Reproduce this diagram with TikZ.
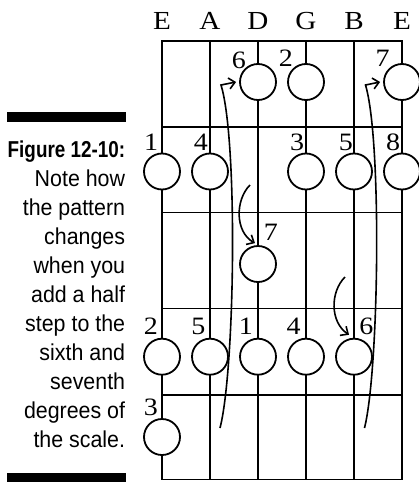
\documentclass[tikz,border=0pt]{standalone}
\usepackage{fontspec}
\setmainfont{Liberation Serif}[FakeStretch=1.12]
\newfontfamily\capfont[FakeStretch=0.93]{Liberation Sans}
\newfontfamily\capbfont[FakeStretch=0.82]{Liberation Sans}
\usetikzlibrary{arrows.meta}
\begin{document}
\begin{tikzpicture}[x=1pt,y=-1pt, line width=1.8pt,
  dot/.style={circle,draw,fill=white,minimum size=36pt,inner sep=0pt,line width=1.8pt},
  num/.style={anchor=base,inner sep=0pt,font=\fontsize{25}{30}\selectfont},
  strname/.style={anchor=base,inner sep=0pt,font=\fontsize{26}{30}\selectfont},
  capline/.style={anchor=base east,inner sep=0pt,font=\capfont\fontsize{23}{29}\selectfont},
  capbold/.style={anchor=base east,inner sep=0pt,font=\capbfont\bfseries\fontsize{23}{29}\selectfont},
  bar/.style={fill=black},
  arr/.style={-{Straight Barb[length=6pt,width=11pt,line width=1.6pt]}, line width=1.6pt}]
\useasboundingbox (0,0) rectangle (419,482);

% caption
\fill[bar] (6.7,111.7) rectangle (126,121.7);
\fill[bar] (6.7,472.7) rectangle (126,482);
\node[capbold] (cap0) at (126,157) {Figure 12-10:};
\foreach \t [count=\i] in {Note how,the pattern,changes,when you,add a half,step to the,sixth and,seventh,degrees of,the scale.}
  \node[capline] (cap\i) at (126,157+29*\i) {\t};

% string names
\foreach \x/\n [count=\i] in {162/E,210/A,258/D,306/G,354/B,402/E}
  \node[strname] (sn\i) at (\x,29.3) {\n};

% grid
\draw[line cap=rect] (162,40.7) rectangle (402,479.5);
\foreach \x in {210,258,306,354}
  \draw (\x,40.7) -- (\x,479.5);
\foreach \y in {126.7,212.5,308.5,395}
  \draw (162,\y) -- (402,\y);

% row 1
\node[dot] (r1D) at (258,82) {};
\node[dot] (r1G) at (306,82) {};
\node[dot] (r1e) at (402,82) {};
\node[num] (l1D) at (238.8,68) {6};
\node[num] (l1G) at (285.8,66.5) {2};
\node[num] (l1e) at (382.5,66.5) {7};
% row 2
\node[dot] (r2E) at (162,171.5) {};
\node[dot] (r2A) at (210,171.5) {};
\node[dot] (r2G) at (306,171.5) {};
\node[dot] (r2B) at (354,171.5) {};
\node[dot] (r2e) at (402,171.5) {};
\node[num] (l2E) at (151,150.7) {1};
\node[num] (l2A) at (200.8,150.7) {4};
\node[num] (l2G) at (297.2,150.7) {3};
\node[num] (l2B) at (345.8,150.7) {5};
\node[num] (l2e) at (393,150.7) {8};
% row 3
\node[dot] (r3D) at (258,264) {};
\node[num] (l3D) at (270.8,240) {7};
% row 4
\node[dot] (r4E) at (162,356.7) {};
\node[dot] (r4A) at (210,356.7) {};
\node[dot] (r4D) at (258,356.7) {};
\node[dot] (r4G) at (306,356.7) {};
\node[dot] (r4B) at (354,356.7) {};
\node[num] (l4E) at (150.8,334.5) {2};
\node[num] (l4A) at (198.3,334.5) {5};
\node[num] (l4D) at (245.8,334.5) {1};
\node[num] (l4G) at (293.5,334.5) {4};
\node[num] (l4B) at (366.3,334.5) {6};
% row 5
\node[dot] (r5E) at (162,437) {};
\node[num] (l5E) at (150.8,415) {3};

% arrows
\coordinate (la0) at (220,428);
\coordinate (la1) at (221,85);
\draw[arr] (la0) .. controls (235,370) and (238,140) .. (la1) -- ([xshift=-3pt]r1D.west);
\coordinate (ra0) at (364.5,428);
\coordinate (ra1) at (365.5,85);
\draw[arr] (ra0) .. controls (379,370) and (382,140) .. (ra1) -- ([xshift=-3pt]r1e.west);
\coordinate (sa0) at (250,185);
\draw[arr] (sa0) .. controls (235,200) and (235,232) .. ([shift={(-3,-2)}]r3D.north);
\coordinate (sb0) at (345,277);
\draw[arr] (sb0) .. controls (330,292) and (330,322) .. ([shift={(-5,-3)}]r4B.north);
\end{tikzpicture}
\end{document}
